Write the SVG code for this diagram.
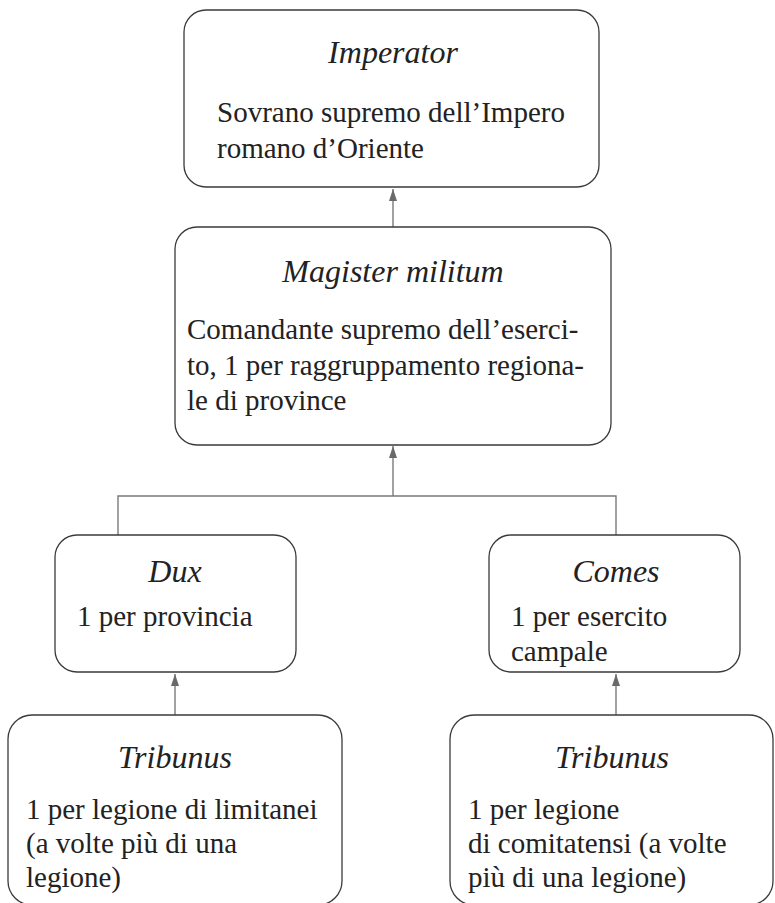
<svg xmlns="http://www.w3.org/2000/svg" width="775" height="903" viewBox="0 0 775 903">
<style>
.box{fill:#fff;stroke:#3a3a3a;stroke-width:1.3}
text{font-family:"Liberation Serif","Times New Roman",serif;font-size:29px;fill:#222}
.h{font-style:italic;text-anchor:middle;font-size:32px}
.c{fill:none;stroke:#7a7a7a;stroke-width:1.4}
</style>
<defs>
<marker id="ah" markerWidth="12" markerHeight="8" refX="12" refY="4" orient="auto" markerUnits="userSpaceOnUse" viewBox="0 0 12 8">
<path d="M12,4 L0,0 L0,8 Z" fill="#6a6a6a"/>
</marker>
</defs>
<rect width="775" height="903" fill="#fff"/>
<g id="connectors">
<path class="c" d="M393,227 V189" marker-end="url(#ah)"/>
<path class="c" d="M118,535 V496 H616 V535"/>
<path class="c" d="M393,496 V446" marker-end="url(#ah)"/>
<path class="c" d="M175,715 V674" marker-end="url(#ah)"/>
<path class="c" d="M616,715 V674" marker-end="url(#ah)"/>
</g>
<g id="imperator">
<rect class="box" x="184" y="10" width="415" height="177" rx="22"/>
<text class="h" x="393" y="63">Imperator</text>
<text x="217" y="122">Sovrano supremo dell’Impero</text>
<text x="217" y="158">romano d’Oriente</text>
</g>
<g id="magister">
<rect class="box" x="175" y="227" width="436" height="218" rx="22"/>
<text class="h" x="393" y="282">Magister militum</text>
<text x="187" y="339">Comandante supremo dell’eserci-</text>
<text x="187" y="375">to, 1 per raggruppamento regiona-</text>
<text x="187" y="410">le di province</text>
</g>
<g id="dux">
<rect class="box" x="55" y="535" width="241" height="137" rx="22"/>
<text class="h" x="175" y="582">Dux</text>
<text x="77" y="626">1 per provincia</text>
</g>
<g id="comes">
<rect class="box" x="489" y="535" width="251" height="137" rx="22"/>
<text class="h" x="616" y="582">Comes</text>
<text x="511" y="626">1 per esercito</text>
<text x="511" y="661">campale</text>
</g>
<g id="tribunus-left">
<rect class="box" x="8" y="715" width="334" height="190" rx="24"/>
<text class="h" x="175" y="768">Tribunus</text>
<text x="26" y="819">1 per legione di limitanei</text>
<text x="26" y="853">(a volte più di una</text>
<text x="26" y="887">legione)</text>
</g>
<g id="tribunus-right">
<rect class="box" x="450" y="715" width="323" height="190" rx="24"/>
<text class="h" x="612" y="768">Tribunus</text>
<text x="468" y="819">1 per legione</text>
<text x="468" y="853">di comitatensi (a volte</text>
<text x="468" y="887">più di una legione)</text>
</g>
</svg>
